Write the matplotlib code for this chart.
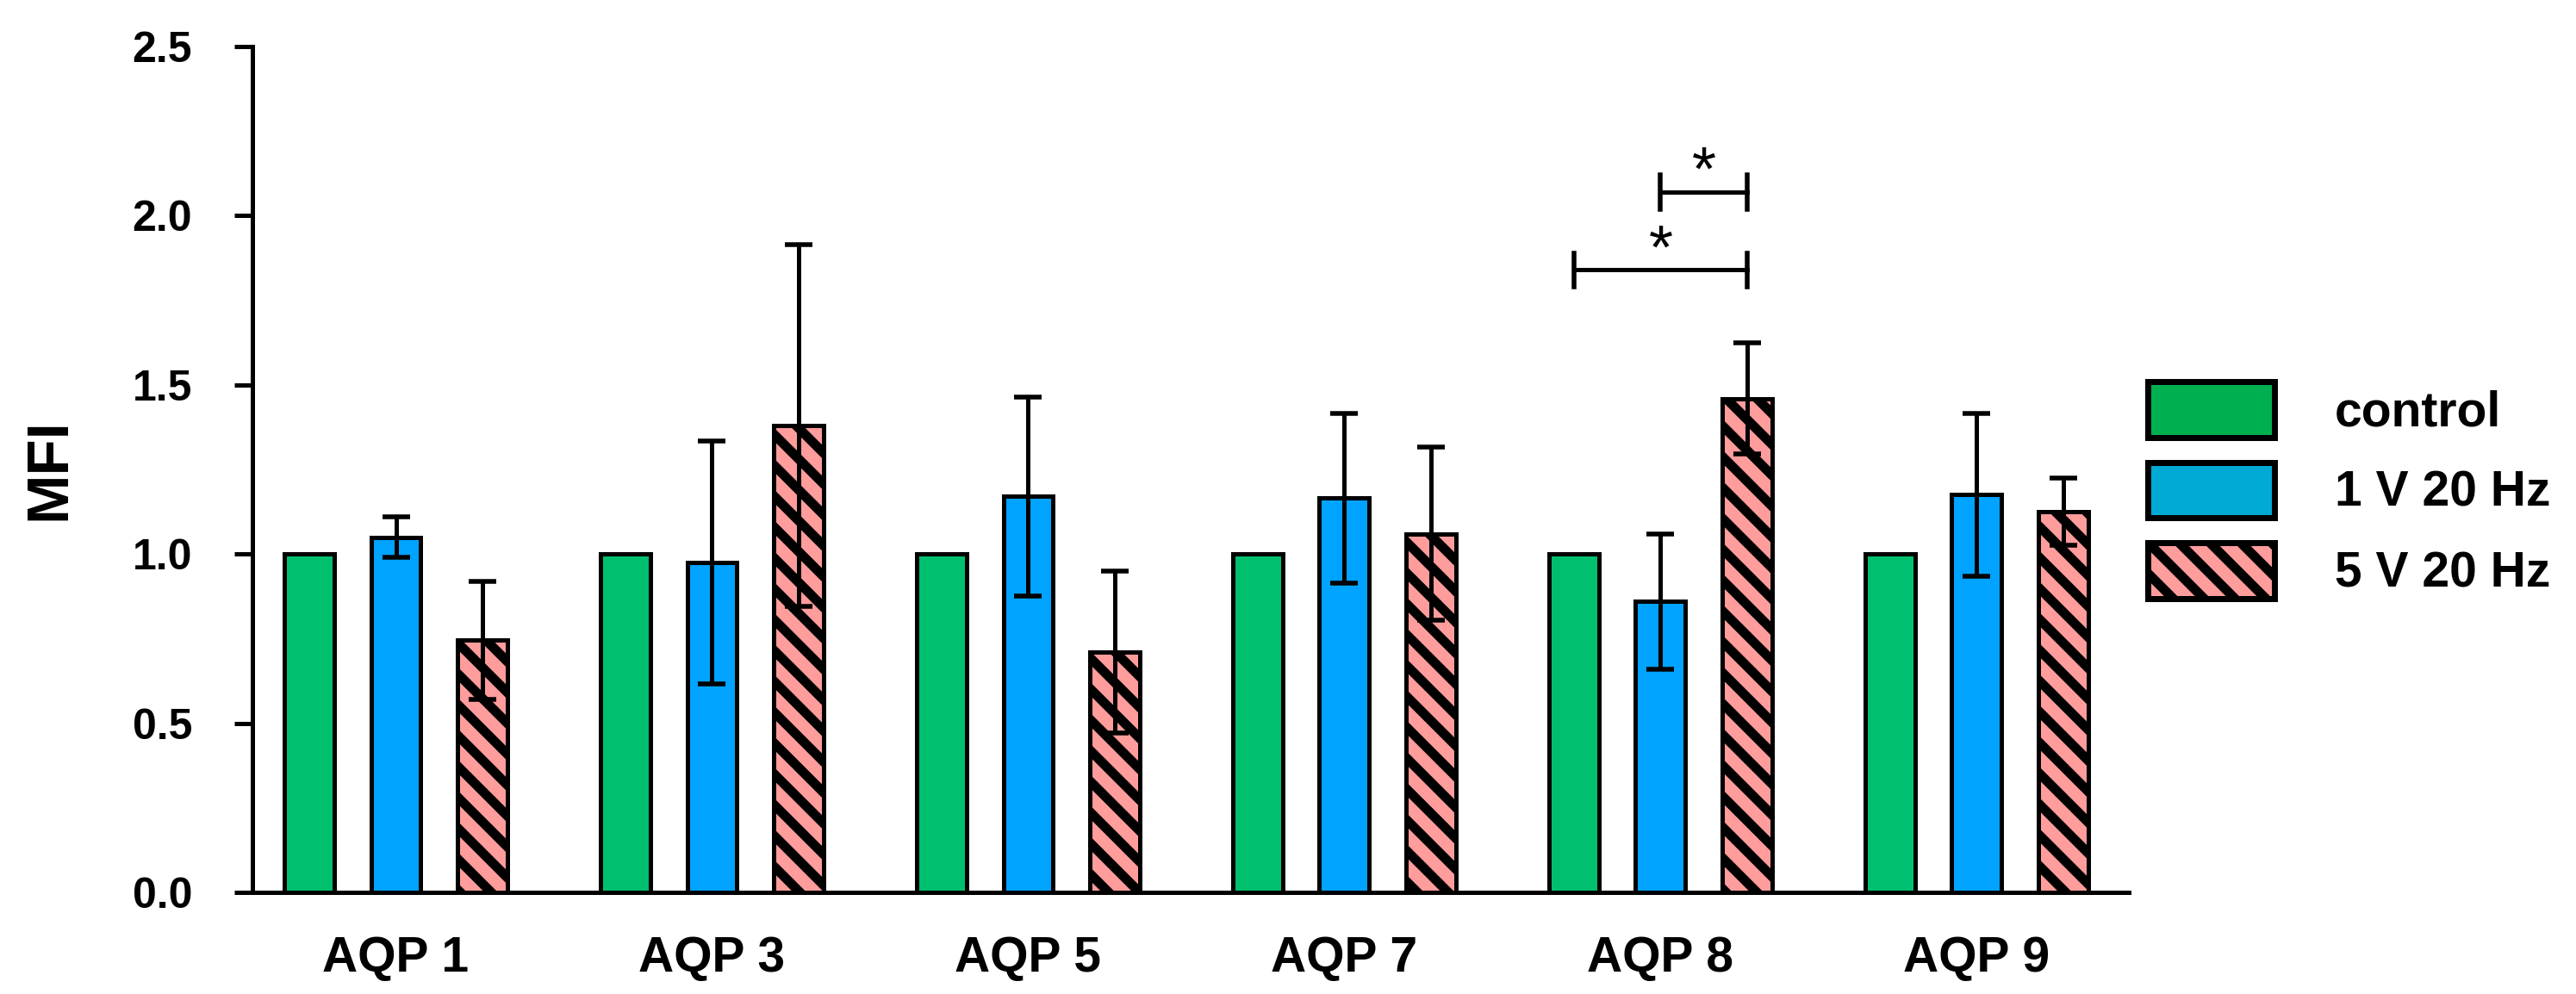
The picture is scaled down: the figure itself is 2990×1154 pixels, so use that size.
import numpy as np
import matplotlib
matplotlib.use('Agg')
import matplotlib.pyplot as plt
from matplotlib.patches import Patch

DPI = 215


def px(v):
    # pixel size in the 2990x1154 image -> points
    return v * 72.0 / DPI


# data
groups = ['AQP 1', 'AQP 3', 'AQP 5', 'AQP 7', 'AQP 8', 'AQP 9']
series = ['control', '1 V 20 Hz', '5 V 20 Hz']
control = [1.0, 1.0, 1.0, 1.0, 1.0, 1.0]
v1_mean = [1.05, 0.975, 1.17, 1.165, 0.86, 1.175]
v1_err = [0.06, 0.36, 0.295, 0.25, 0.20, 0.24]
v5_mean = [0.745, 1.38, 0.71, 1.06, 1.46, 1.125]
v5_err = [0.175, 0.535, 0.24, 0.255, 0.165, 0.10]

# significance brackets inside AQP 8 (series a vs series b, height, label)
sig_group = 4
sig_pairs = [(1, 2), (0, 2)]
sig_heights = [2.07, 1.84]
sig_labels = ['*', '*']

bar_colors = ['#00BF6F', '#00A3FF', '#FF9C9C']
legend_colors = ['#00B050', '#00AAD4', '#FF9C9C']

plt.rcParams['font.family'] = ['Liberation Sans', 'DejaVu Sans']
plt.rcParams['font.weight'] = 'bold'
plt.rcParams['hatch.linewidth'] = px(11)
plt.rcParams['hatch.color'] = 'black'

fig = plt.figure(figsize=(2990 / DPI, 1154 / DPI), dpi=DPI)
ax = fig.add_axes([293 / 2990, 1 - 1036 / 1154, (2471 - 293) / 2990, (1036 - 54) / 1154])

x = np.arange(len(groups))
step = 0.2738
width = 0.158

means = [control, v1_mean, v5_mean]
errs = [None, v1_err, v5_err]
hatches = [None, None, '\\\\']
for k in range(3):
    xs = x + (k - 1) * step
    ax.bar(xs, means[k], width, color=bar_colors[k], edgecolor='black',
           linewidth=px(5), hatch=hatches[k], zorder=2)
    if errs[k] is not None:
        ax.errorbar(xs, means[k], yerr=errs[k], fmt='none', ecolor='black',
                    elinewidth=px(5), capsize=px(16), capthick=px(5.5), zorder=3)

# significance brackets
for (a, b), h, lab in zip(sig_pairs, sig_heights, sig_labels):
    x1 = sig_group + (a - 1) * step
    x2 = sig_group + (b - 1) * step
    ax.plot([x1, x2], [h, h], color='black', lw=px(5), zorder=3)
    ax.plot([x1, x1], [h - 0.05, h + 0.05], color='black', lw=px(5.5), zorder=3)
    ax.plot([x2, x2], [h - 0.05, h + 0.05], color='black', lw=px(5.5), zorder=3)
    ax.text((x1 + x2) / 2, h + 0.005, lab, ha='center', va='baseline',
            fontsize=px(72), fontweight='normal')

ax.set_xlim(-0.4537, 5.481)
ax.set_ylim(0, 2.5)
ax.set_yticks(np.arange(0, 2.51, 0.5))
ax.set_yticklabels(['%.1f' % v for v in np.arange(0, 2.51, 0.5)])
ax.set_xticks(x)
ax.set_xticklabels(groups)

for s in ['top', 'right']:
    ax.spines[s].set_visible(False)
for s in ['left', 'bottom']:
    ax.spines[s].set_linewidth(px(5))

ax.tick_params(axis='x', length=0, pad=px(50), labelsize=px(57))
ax.tick_params(axis='y', length=px(21), width=px(5), pad=px(49), labelsize=px(50))

ax.set_ylabel('MFI', fontsize=px(69), fontweight='bold')
ax.yaxis.set_label_coords(-0.0934, 0.5)

handles = []
for k in range(3):
    handles.append(Patch(facecolor=legend_colors[k], edgecolor='black',
                         linewidth=px(7), hatch=hatches[k]))
fsz = 57
ax.legend(handles, series, loc='upper left',
          bbox_to_anchor=(2493 / 2990, 1 - 443 / 1154), bbox_transform=fig.transFigure,
          frameon=False, borderpad=0, borderaxespad=0,
          handlelength=147 / fsz, handleheight=78 / fsz, labelspacing=29 / fsz,
          handletextpad=70 / fsz, prop={'weight': 'bold', 'size': px(fsz)})

fig.savefig('out.png', dpi=DPI)
